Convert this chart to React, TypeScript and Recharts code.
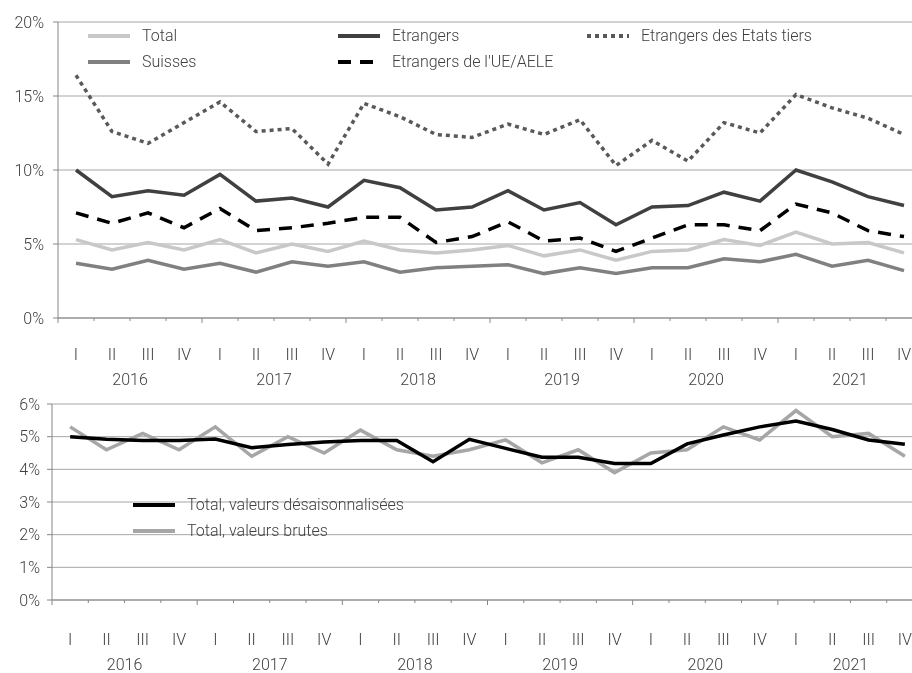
import { CartesianGrid, Legend, Line, LineChart, XAxis, YAxis } from "recharts";

const years = ["2016", "2017", "2018", "2019", "2020", "2021"];
const quarterNames = ["I", "II", "III", "IV"];

// taux de chômage au sens du BIT, en %
const total = [5.3, 4.6, 5.1, 4.6, 5.3, 4.4, 5.0, 4.5, 5.2, 4.6, 4.4, 4.6, 4.9, 4.2, 4.6, 3.9, 4.5, 4.6, 5.3, 4.9, 5.8, 5.0, 5.1, 4.4];
const suisses = [3.7, 3.3, 3.9, 3.3, 3.7, 3.1, 3.8, 3.5, 3.8, 3.1, 3.4, 3.5, 3.6, 3.0, 3.4, 3.0, 3.4, 3.4, 4.0, 3.8, 4.3, 3.5, 3.9, 3.2];
const etrangers = [10.0, 8.2, 8.6, 8.3, 9.7, 7.9, 8.1, 7.5, 9.3, 8.8, 7.3, 7.5, 8.6, 7.3, 7.8, 6.3, 7.5, 7.6, 8.5, 7.9, 10.0, 9.2, 8.2, 7.6];
const etrangersUe = [7.1, 6.4, 7.1, 6.1, 7.4, 5.9, 6.1, 6.4, 6.8, 6.8, 5.1, 5.5, 6.5, 5.2, 5.4, 4.5, 5.4, 6.3, 6.3, 5.9, 7.7, 7.1, 5.9, 5.5];
const etrangersTiers = [16.4, 12.6, 11.8, 13.2, 14.6, 12.6, 12.8, 10.4, 14.5, 13.6, 12.4, 12.2, 13.1, 12.4, 13.4, 10.3, 12.0, 10.6, 13.2, 12.5, 15.1, 14.2, 13.5, 12.4];
const totalDesais = [5.0, 4.92, 4.88, 4.88, 4.93, 4.66, 4.76, 4.84, 4.88, 4.88, 4.23, 4.92, 4.64, 4.37, 4.37, 4.18, 4.18, 4.78, 5.05, 5.3, 5.48, 5.22, 4.9, 4.77];

const topTicks = [0, 5, 10, 15, 20];
const bottomTicks = [0, 1, 2, 3, 4, 5, 6];

const data = total.map((v, i) => ({
  period: `${quarterNames[i % 4]} ${years[Math.floor(i / 4)]}`,
  total: v,
  suisses: suisses[i],
  etrangers: etrangers[i],
  etrangersUe: etrangersUe[i],
  etrangersTiers: etrangersTiers[i],
  totalDesais: totalDesais[i],
}));

const font = "Roboto, sans-serif";
const textColor = "#404040";
const gridColor = "#a6a6a6";
const axisColor = "#868686";

const topSeries = [
  { key: "total", name: "Total", color: "#c8c8c8", dash: undefined, x: 88, row: 0 },
  { key: "etrangers", name: "Etrangers", color: "#404040", dash: undefined, x: 338, row: 0 },
  { key: "etrangersTiers", name: "Etrangers des Etats tiers", color: "#595959", dash: "4 4", x: 587, row: 0 },
  { key: "suisses", name: "Suisses", color: "#808080", dash: undefined, x: 88, row: 1 },
  { key: "etrangersUe", name: "Etrangers de l'UE/AELE", color: "#000000", dash: "13 9", x: 338, row: 1 },
];

const bottomSeries = [
  { key: "totalDesais", name: "Total, valeurs désaisonnalisées", color: "#000000", dash: undefined, x: 133, row: 0 },
  { key: "total", name: "Total, valeurs brutes", color: "#a6a6a6", dash: undefined, x: 133, row: 1 },
];

function QuarterTick(props: any) {
  const { x, y, index, band, qDy, yDy } = props;
  const left = x - band / 2;
  const major = index % 4 === 0;
  return (
    <g>
      <line x1={left} x2={left} y1={y} y2={y + (major ? 5 : 3)} stroke={axisColor} />
      <text x={x} y={y + qDy} textAnchor="middle" fontSize={16} fontFamily={font} fontWeight={300} fill={textColor}>
        {quarterNames[index % 4]}
      </text>
      {index % 4 === 1 && (
        <text x={x + band / 2} y={y + yDy} textAnchor="middle" fontSize={16} fontFamily={font} fontWeight={300} fill={textColor}>
          {years[Math.floor(index / 4)]}
        </text>
      )}
    </g>
  );
}

function makeLegend(series: typeof topSeries, top: number, rowGap: number) {
  return () => (
    <div style={{ position: "relative", width: 0, height: 0 }}>
      {series.map((s) => (
        <div
          key={s.name}
          style={{
            position: "absolute",
            left: s.x,
            top: top + s.row * rowGap - 10,
            display: "flex",
            alignItems: "center",
            whiteSpace: "nowrap",
            fontFamily: font,
            fontWeight: 300,
            fontSize: 16,
            lineHeight: "20px",
            color: textColor,
          }}
        >
          <svg width={42} height={20} style={{ marginRight: 12 }}>
            <line x1={0} x2={42} y1={10} y2={10} stroke={s.color} strokeWidth={4} strokeDasharray={s.dash} />
          </svg>
          {s.name}
        </div>
      ))}
    </div>
  );
}

export default function App() {
  const topBand = (922 - 58) / 24;
  const bottomBand = (923 - 52) / 24;
  return (
    <div
      style={{
        position: "absolute",
        left: 0,
        top: 0,
        width: 912,
        height: 673,
        overflow: "hidden",
        background: "#fff",
        filter: "grayscale(1)",
      }}
    >
      <LineChart width={922} height={395} data={data} margin={{ top: 22, right: 0, bottom: 0, left: 0 }}>
        <CartesianGrid vertical={false} stroke={gridColor} />
        <XAxis
          dataKey="period"
          scale="band"
          interval={0}
          height={77}
          tickSize={0}
          tickMargin={0}
          stroke={axisColor}
          tick={<QuarterTick band={topBand} qDy={42} yDy={67} />}
        />
        <YAxis
          width={58}
          domain={[0, 20]}
          ticks={topTicks}
          tickFormatter={(v) => `${v}%`}
          stroke={axisColor}
          tickSize={5}
          tickMargin={9}
          tick={{ fontSize: 16, fontFamily: font, fontWeight: 300, fill: textColor }}
        />
        <Legend layout="vertical" align="center" verticalAlign="middle" wrapperStyle={{ top: 0, left: 0, width: 0, height: 0 }} content={makeLegend(topSeries, 36, 26)} />
        {topSeries.map((s) => (
          <Line
            key={s.key}
            dataKey={s.key}
            name={s.name}
            stroke={s.color}
            strokeWidth={3.5}
            strokeDasharray={s.dash}
            dot={false}
            type="linear"
            isAnimationActive={false}
          />
        ))}
      </LineChart>
      <LineChart width={923} height={278} data={data} margin={{ top: 9, right: 0, bottom: 0, left: 0 }}>
        <CartesianGrid vertical={false} stroke={gridColor} />
        <XAxis
          dataKey="period"
          scale="band"
          interval={0}
          height={73}
          tickSize={0}
          tickMargin={0}
          stroke={axisColor}
          tick={<QuarterTick band={bottomBand} qDy={45} yDy={70} />}
        />
        <YAxis
          width={52}
          domain={[0, 6]}
          ticks={bottomTicks}
          tickFormatter={(v) => `${v}%`}
          stroke={axisColor}
          tickSize={5}
          tickMargin={7}
          tick={{ fontSize: 16, fontFamily: font, fontWeight: 300, fill: textColor }}
        />
        <Legend layout="vertical" align="center" verticalAlign="middle" wrapperStyle={{ top: 0, left: 0, width: 0, height: 0 }} content={makeLegend(bottomSeries, 110, 26)} />
        {[...bottomSeries].reverse().map((s) => (
          <Line
            key={s.key}
            dataKey={s.key}
            name={s.name}
            stroke={s.color}
            strokeWidth={3.5}
            dot={false}
            type="linear"
            isAnimationActive={false}
          />
        ))}
      </LineChart>
    </div>
  );
}
